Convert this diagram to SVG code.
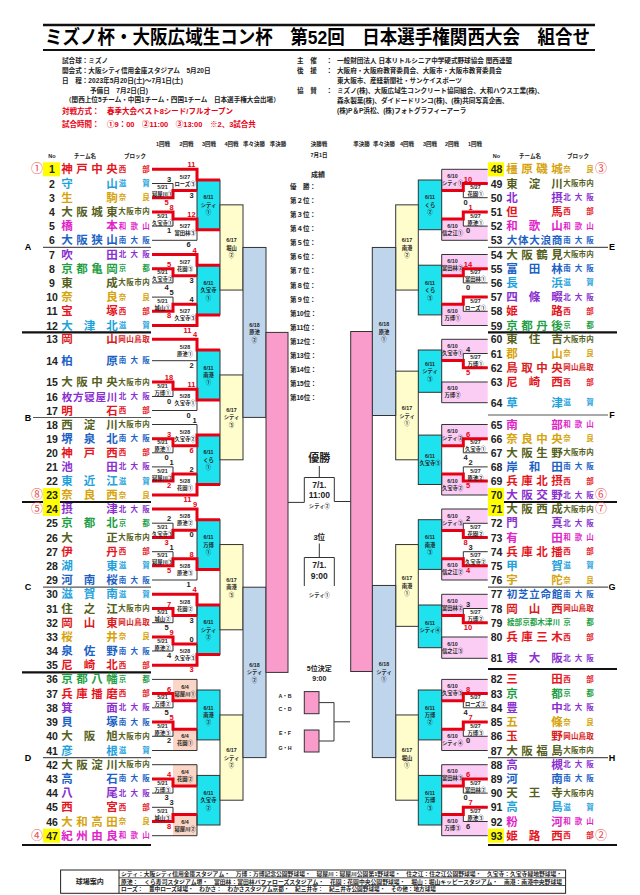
<svg xmlns="http://www.w3.org/2000/svg" width="640" height="895" viewBox="0 0 640 895">
<defs>
<style>
text{font-family:"Liberation Sans","Noto Sans CJK JP",sans-serif;font-weight:bold;dominant-baseline:central}
.t{font-size:11.5px;text-anchor:middle}
.t5{font-size:10.5px}
.no{font-size:10.5px;text-anchor:middle;fill:#222}
.bk{font-size:7.5px;text-anchor:middle}
.sd{font-size:12px;text-anchor:middle;fill:#e8504f;font-weight:normal}
.lb{font-size:5.3px;text-anchor:middle;fill:#222}
.sc{font-size:7.5px;text-anchor:middle;fill:#222}
.hd{font-size:5.5px;text-anchor:middle;fill:#222}
.inf{font-size:6.6px;fill:#222}
.rk{font-size:6.5px;fill:#222}
.red{fill:#e60012}
.ln{stroke:#333;stroke-width:1;fill:none}
.rl{stroke:#e60012;stroke-width:3;fill:none}
.sep{stroke:#555;stroke-width:1.2}
.sepk{stroke:#111;stroke-width:2.2}
.cy{fill:#1ee3ef;stroke:#333;stroke-width:1}
.ye{fill:#fffdcc;stroke:#333;stroke-width:1}
.bl{fill:#bfd5ec;stroke:#333;stroke-width:1}
.pk{fill:#f99bcb;stroke:#333;stroke-width:1}
.pl{fill:#fbcdf5}
.wh{fill:#fff}
.sa{fill:#fbd5c5}
.sb{fill:#ffff00}
.c1{fill:#e5161e}.c2{fill:#1ea2dc}.c3{fill:#d6a30c}.c4{fill:#556020}.c5{fill:#e024c8}.c6{fill:#1c62c4}.c7{fill:#8a30cf}.c8{fill:#1f9f45}.c9{fill:#d81e1e}
</style>
</defs>
<rect width="640" height="895" fill="#fff"/>

<g id="title">
<line x1="43" y1="25" x2="595" y2="25" stroke="#111" stroke-width="2.6"/>
<line x1="43" y1="50" x2="595" y2="50" stroke="#111" stroke-width="2.2"/>
<text x="45" y="37.5" font-size="19" textLength="545" lengthAdjust="spacingAndGlyphs">ミズノ杯・大阪広域生コン杯　第52回　日本選手権関西大会　組合せ</text>
</g>

<g id="info-left">
<text class="inf" x="62" y="60">試合球：ミズノ</text>
<text class="inf" x="62" y="70">開会式：大阪シティ信用金庫スタジアム　5月20日</text>
<text class="inf" x="62" y="80">日　程：2023年5月20日(土)～7月1日(土)</text>
<text class="inf" x="90" y="90">予備日　7月2日(日)</text>
<text class="inf" x="65" y="99.5" font-size="5.6">（関西上位5チーム・中国1チーム・四国1チーム　日本選手権大会出場）</text>
<text class="red" x="62" y="111" font-size="7.5">対戦方式：</text>
<text class="red" x="107" y="111" font-size="7.5">春季大会ベスト8シード/フルオープン</text>
<text class="red" x="62" y="124" font-size="7.5">試合時間：</text>
<text class="red" x="107" y="124" font-size="7.5">①9：00　②11:00　③13:00　※2、3試合共</text>
</g>

<g id="info-right">
<text class="inf" x="297" y="60">主　催</text><text class="inf" x="326" y="60">：</text>
<text class="inf" x="337" y="60">一般財団法人 日本リトルシニア中学硬式野球協会 関西連盟</text>
<text class="inf" x="297" y="70">後　援</text><text class="inf" x="326" y="70">：</text>
<text class="inf" x="337" y="70">大阪府・大阪府教育委員会、大阪市・大阪市教育委員会</text>
<text class="inf" x="337" y="80">東大阪市、産経新聞社・サンケイスポーツ</text>
<text class="inf" x="297" y="90">協　賛</text><text class="inf" x="326" y="90">：</text>
<text class="inf" x="337" y="90">ミズノ(株)、大阪広域生コンクリート協同組合、大和ハウス工業(株)、</text>
<text class="inf" x="337" y="100">森永製菓(株)、ダイドードリンコ(株)、(株)共同写真企画、</text>
<text class="inf" x="337" y="110">(株)P＆P浜松、(株)フォトグラフィーアーラ</text>
</g>

<g id="round-headers">
<text class="hd" x="163" y="144">1回戦</text><text class="hd" x="186.5" y="144">2回戦</text><text class="hd" x="209" y="144">3回戦</text><text class="hd" x="231.5" y="144">4回戦</text><text class="hd" x="254" y="144">準々決勝</text><text class="hd" x="278" y="144">準決勝</text>
<text class="hd" x="319" y="144">決勝戦</text><text class="hd" x="319" y="155" font-size="6.5">7月1日</text>
<text class="hd" x="361.5" y="144">準決勝</text><text class="hd" x="384" y="144">準々決勝</text><text class="hd" x="407" y="144">4回戦</text><text class="hd" x="430" y="144">3回戦</text><text class="hd" x="452" y="144">2回戦</text><text class="hd" x="475" y="144">1回戦</text>
<text class="hd" x="52" y="156" font-size="6">No</text><text class="hd" x="85" y="156" font-size="6">チーム名</text><text class="hd" x="135" y="156" font-size="6">ブロック</text>
<text class="hd" x="496.5" y="156" font-size="6">No</text><text class="hd" x="530" y="156" font-size="6">チーム名</text><text class="hd" x="578" y="156" font-size="6">ブロック</text>
</g>

<g id="separators">
<line class="sep" x1="43" y1="247.4" x2="151" y2="247.4"/><line class="sepk" x1="22" y1="332.4" x2="151" y2="332.4"/>
<line class="sep" x1="33" y1="417.5" x2="151" y2="417.5"/><line class="sepk" x1="22" y1="502" x2="151" y2="502"/>
<line class="sep" x1="43" y1="587.2" x2="151" y2="587.2"/><line class="sepk" x1="22" y1="672.3" x2="151" y2="672.3"/>
<line class="sep" x1="43" y1="757.6" x2="151" y2="757.6"/><line class="sepk" x1="22" y1="845" x2="151" y2="845"/>
<line class="sep" x1="488" y1="247.4" x2="608" y2="247.4"/><line class="sepk" x1="488" y1="332.4" x2="617" y2="332.4"/>
<line class="sep" x1="488" y1="415" x2="608" y2="415"/><line class="sepk" x1="488" y1="502" x2="617" y2="502"/>
<line class="sep" x1="488" y1="587.2" x2="608" y2="587.2"/><line class="sepk" x1="488" y1="669" x2="617" y2="669"/>
<line class="sep" x1="488" y1="757.6" x2="608" y2="757.6"/><line class="sepk" x1="488" y1="845" x2="617" y2="845"/>
<text x="28" y="247.4" font-size="9" text-anchor="middle">A</text><text x="28" y="417.5" font-size="9" text-anchor="middle">B</text>
<text x="28" y="587.2" font-size="9" text-anchor="middle">C</text><text x="28" y="757.6" font-size="9" text-anchor="middle">D</text>
<text x="612" y="247.4" font-size="9" text-anchor="middle">E</text><text x="612" y="415" font-size="9" text-anchor="middle">F</text>
<text x="612" y="587.2" font-size="9" text-anchor="middle">G</text><text x="612" y="757.6" font-size="9" text-anchor="middle">H</text>
</g>

<g id="teams-left">
<g id="team-1"><rect class="sb" x="43" y="162.3" width="17" height="14"/><text class="sd" x="37" y="169.3">①</text><text class="no" x="52" y="169.3">1</text><text class="t c1" x="67 82 97 112" y="169.3">神戸中央</text><text class="bk c1" x="122.5 146" y="169.3">西部</text></g>
<g id="team-2"><text class="no" x="52" y="183.5">2</text><text class="t c2" x="67 112" y="183.5">守山</text><text class="bk c2" x="122.5 146" y="183.5">滋賀</text></g>
<g id="team-3"><text class="no" x="52" y="197.7">3</text><text class="t c3" x="67 112" y="197.7">生駒</text><text class="bk c3" x="122.5 146" y="197.7">奈良</text></g>
<g id="team-4"><text class="no" x="52" y="211.9">4</text><text class="t c4" x="67 82 97 112" y="211.9">大阪城東</text><text class="bk c4" x="122 130 138 146" y="211.9">大阪市内</text></g>
<g id="team-5"><text class="no" x="52" y="226.1">5</text><text class="t c5" x="67 112" y="226.1">橋本</text><text class="bk c5" x="122.5 134.3 146" y="226.1">和歌山</text></g>
<g id="team-6"><text class="no" x="52" y="240.3">6</text><text class="t c6" x="67 82 97 112" y="240.3">大阪狭山</text><text class="bk c6" x="122.5 134.3 146" y="240.3">南大阪</text></g>
<g id="team-7"><text class="no" x="52" y="254.5">7</text><text class="t c7" x="67 112" y="254.5">吹田</text><text class="bk c7" x="122.5 134.3 146" y="254.5">北大阪</text></g>
<g id="team-8"><text class="no" x="52" y="268.7">8</text><text class="t c8" x="67 82 97 112" y="268.7">京都亀岡</text><text class="bk c8" x="122.5 146" y="268.7">京都</text></g>
<g id="team-9"><text class="no" x="52" y="282.9">9</text><text class="t c4" x="67 112" y="282.9">東成</text><text class="bk c4" x="122 130 138 146" y="282.9">大阪市内</text></g>
<g id="team-10"><text class="no" x="52" y="297.1">10</text><text class="t c3" x="67 112" y="297.1">奈良</text><text class="bk c3" x="122.5 146" y="297.1">奈良</text></g>
<g id="team-11"><text class="no" x="52" y="311.3">11</text><text class="t c1" x="67 112" y="311.3">宝塚</text><text class="bk c1" x="122.5 146" y="311.3">西部</text></g>
<g id="team-12"><text class="no" x="52" y="325.5">12</text><text class="t c2" x="67 89.5 112" y="325.5">大津北</text><text class="bk c2" x="122.5 146" y="325.5">滋賀</text></g>
<g id="team-13"><text class="no" x="52" y="339.3">13</text><text class="t c9" x="67 112" y="339.3">岡山</text><text class="bk c9" x="122 130 138 146" y="339.3">岡山鳥取</text></g>
<g id="team-14"><text class="no" x="52" y="360.7">14</text><text class="t c6" x="67 112" y="360.7">柏原</text><text class="bk c6" x="122.5 134.3 146" y="360.7">南大阪</text></g>
<g id="team-15"><text class="no" x="52" y="382">15</text><text class="t c4" x="67 82 97 112" y="382">大阪中央</text><text class="bk c4" x="122 130 138 146" y="382">大阪市内</text></g>
<g id="team-16"><text class="no" x="52" y="396.5">16</text><text class="t t5 c7" x="67 78.25 89.5 100.75 112" y="396.5">枚方寝屋川</text><text class="bk c7" x="122.5 134.3 146" y="396.5">北大阪</text></g>
<g id="team-17"><text class="no" x="52" y="410.5">17</text><text class="t c1" x="67 112" y="410.5">明石</text><text class="bk c1" x="122.5 146" y="410.5">西部</text></g>
<g id="team-18"><text class="no" x="52" y="424.5">18</text><text class="t c4" x="67 89.5 112" y="424.5">西淀川</text><text class="bk c4" x="122 130 138 146" y="424.5">大阪市内</text></g>
<g id="team-19"><text class="no" x="52" y="438.7">19</text><text class="t c6" x="67 89.5 112" y="438.7">堺泉北</text><text class="bk c6" x="122.5 134.3 146" y="438.7">南大阪</text></g>
<g id="team-20"><text class="no" x="52" y="452.8">20</text><text class="t c1" x="67 89.5 112" y="452.8">神戸西</text><text class="bk c1" x="122.5 146" y="452.8">西部</text></g>
<g id="team-21"><text class="no" x="52" y="466.9">21</text><text class="t c7" x="67 112" y="466.9">池田</text><text class="bk c7" x="122.5 134.3 146" y="466.9">北大阪</text></g>
<g id="team-22"><text class="no" x="52" y="481">22</text><text class="t c2" x="67 89.5 112" y="481">東近江</text><text class="bk c2" x="122.5 146" y="481">滋賀</text></g>
<g id="team-23"><rect class="sb" x="43" y="488" width="17" height="14"/><text class="sd" x="37" y="495">⑧</text><text class="no" x="52" y="495">23</text><text class="t c3" x="67 89.5 112" y="495">奈良西</text><text class="bk c3" x="122.5 146" y="495">奈良</text></g>
<g id="team-24"><rect class="sb" x="43" y="502" width="17" height="14"/><text class="sd" x="37" y="509">⑤</text><text class="no" x="52" y="509">24</text><text class="t c7" x="67 112" y="509">摂津</text><text class="bk c7" x="122.5 134.3 146" y="509">北大阪</text></g>
<g id="team-25"><text class="no" x="52" y="523.2">25</text><text class="t c8" x="67 89.5 112" y="523.2">京都北</text><text class="bk c8" x="122.5 146" y="523.2">京都</text></g>
<g id="team-26"><text class="no" x="52" y="537.5">26</text><text class="t c4" x="67 112" y="537.5">大正</text><text class="bk c4" x="122 130 138 146" y="537.5">大阪市内</text></g>
<g id="team-27"><text class="no" x="52" y="551.7">27</text><text class="t c1" x="67 112" y="551.7">伊丹</text><text class="bk c1" x="122.5 146" y="551.7">西部</text></g>
<g id="team-28"><text class="no" x="52" y="565.8">28</text><text class="t c2" x="67 112" y="565.8">湖東</text><text class="bk c2" x="122.5 146" y="565.8">滋賀</text></g>
<g id="team-29"><text class="no" x="52" y="580">29</text><text class="t c6" x="67 89.5 112" y="580">河南桜</text><text class="bk c6" x="122.5 134.3 146" y="580">南大阪</text></g>
<g id="team-30"><text class="no" x="52" y="594.3">30</text><text class="t c2" x="67 89.5 112" y="594.3">滋賀南</text><text class="bk c2" x="122.5 146" y="594.3">滋賀</text></g>
<g id="team-31"><text class="no" x="52" y="608.5">31</text><text class="t c4" x="67 89.5 112" y="608.5">住之江</text><text class="bk c4" x="122 130 138 146" y="608.5">大阪市内</text></g>
<g id="team-32"><text class="no" x="52" y="622.7">32</text><text class="t c9" x="67 89.5 112" y="622.7">岡山東</text><text class="bk c9" x="122 130 138 146" y="622.7">岡山鳥取</text></g>
<g id="team-33"><text class="no" x="52" y="636.9">33</text><text class="t c3" x="67 112" y="636.9">桜井</text><text class="bk c3" x="122.5 146" y="636.9">奈良</text></g>
<g id="team-34"><text class="no" x="52" y="651">34</text><text class="t c6" x="67 89.5 112" y="651">泉佐野</text><text class="bk c6" x="122.5 134.3 146" y="651">南大阪</text></g>
<g id="team-35"><text class="no" x="52" y="665.2">35</text><text class="t c1" x="67 89.5 112" y="665.2">尼崎北</text><text class="bk c1" x="122.5 146" y="665.2">西部</text></g>
<g id="team-36"><text class="no" x="52" y="679.4">36</text><text class="t c8" x="67 82 97 112" y="679.4">京都八幡</text><text class="bk c8" x="122.5 146" y="679.4">京都</text></g>
<g id="team-37"><text class="no" x="52" y="693.6">37</text><text class="t c1" x="67 82 97 112" y="693.6">兵庫播磨</text><text class="bk c1" x="122.5 146" y="693.6">西部</text></g>
<g id="team-38"><text class="no" x="52" y="707.8">38</text><text class="t c7" x="67 112" y="707.8">箕面</text><text class="bk c7" x="122.5 134.3 146" y="707.8">北大阪</text></g>
<g id="team-39"><text class="no" x="52" y="722">39</text><text class="t c6" x="67 112" y="722">貝塚</text><text class="bk c6" x="122.5 134.3 146" y="722">南大阪</text></g>
<g id="team-40"><text class="no" x="52" y="736.3">40</text><text class="t c4" x="67 89.5 112" y="736.3">大阪旭</text><text class="bk c4" x="122 130 138 146" y="736.3">大阪市内</text></g>
<g id="team-41"><text class="no" x="52" y="750.5">41</text><text class="t c2" x="67 112" y="750.5">彦根</text><text class="bk c2" x="122.5 146" y="750.5">滋賀</text></g>
<g id="team-42"><text class="no" x="52" y="764.7">42</text><text class="t c4" x="67 82 97 112" y="764.7">大阪淀川</text><text class="bk c4" x="122 130 138 146" y="764.7">大阪市内</text></g>
<g id="team-43"><text class="no" x="52" y="778.9">43</text><text class="t c6" x="67 112" y="778.9">高石</text><text class="bk c6" x="122.5 134.3 146" y="778.9">南大阪</text></g>
<g id="team-44"><text class="no" x="52" y="793.1">44</text><text class="t c7" x="67 112" y="793.1">八尾</text><text class="bk c7" x="122.5 134.3 146" y="793.1">北大阪</text></g>
<g id="team-45"><text class="no" x="52" y="807.3">45</text><text class="t c1" x="67 112" y="807.3">西宮</text><text class="bk c1" x="122.5 146" y="807.3">西部</text></g>
<g id="team-46"><text class="no" x="52" y="821.5">46</text><text class="t c3" x="67 82 97 112" y="821.5">大和高田</text><text class="bk c3" x="122.5 146" y="821.5">奈良</text></g>
<g id="team-47"><rect class="sb" x="43" y="828.7" width="17" height="14"/><text class="sd" x="37" y="835.7">④</text><text class="no" x="52" y="835.7">47</text><text class="t c5" x="67 82 97 112" y="835.7">紀州由良</text><text class="bk c5" x="122.5 134.3 146" y="835.7">和歌山</text></g>
</g>

<g id="teams-right">
<g id="team-48"><rect class="sb" x="488" y="162.3" width="16" height="14"/><text class="sd" x="601" y="169.3">③</text><text class="no" x="496.5" y="169.3">48</text><text class="t c3" x="512 527 542 557" y="169.3">橿原磯城</text><text class="bk c3" x="567 590" y="169.3">奈良</text></g>
<g id="team-49"><text class="no" x="496.5" y="183.5">49</text><text class="t c4" x="512 534.5 557" y="183.5">東淀川</text><text class="bk c4" x="567 574.7 582.3 590" y="183.5">大阪市内</text></g>
<g id="team-50"><text class="no" x="496.5" y="197.7">50</text><text class="t c7" x="512 557" y="197.7">北摂</text><text class="bk c7" x="567 578.5 590" y="197.7">北大阪</text></g>
<g id="team-51"><text class="no" x="496.5" y="211.9">51</text><text class="t c1" x="512 557" y="211.9">但馬</text><text class="bk c1" x="567 590" y="211.9">西部</text></g>
<g id="team-52"><text class="no" x="496.5" y="226.1">52</text><text class="t c5" x="512 534.5 557" y="226.1">和歌山</text><text class="bk c5" x="567 578.5 590" y="226.1">和歌山</text></g>
<g id="team-53"><text class="no" x="496.5" y="240.3">53</text><text class="t t5 c6" x="512 523.25 534.5 545.75 557" y="240.3">大体大浪商</text><text class="bk c6" x="567 578.5 590" y="240.3">南大阪</text></g>
<g id="team-54"><text class="no" x="496.5" y="254.5">54</text><text class="t c4" x="512 527 542 557" y="254.5">大阪鶴見</text><text class="bk c4" x="567 574.7 582.3 590" y="254.5">大阪市内</text></g>
<g id="team-55"><text class="no" x="496.5" y="268.7">55</text><text class="t c6" x="512 534.5 557" y="268.7">富田林</text><text class="bk c6" x="567 578.5 590" y="268.7">南大阪</text></g>
<g id="team-56"><text class="no" x="496.5" y="282.9">56</text><text class="t c2" x="512 557" y="282.9">長浜</text><text class="bk c2" x="567 590" y="282.9">滋賀</text></g>
<g id="team-57"><text class="no" x="496.5" y="297.1">57</text><text class="t c7" x="512 534.5 557" y="297.1">四條畷</text><text class="bk c7" x="567 578.5 590" y="297.1">北大阪</text></g>
<g id="team-58"><text class="no" x="496.5" y="311.3">58</text><text class="t c1" x="512 557" y="311.3">姫路</text><text class="bk c1" x="567 590" y="311.3">西部</text></g>
<g id="team-59"><text class="no" x="496.5" y="325.5">59</text><text class="t c8" x="512 527 542 557" y="325.5">京都丹後</text><text class="bk c8" x="567 590" y="325.5">京都</text></g>
<g id="team-60"><text class="no" x="496.5" y="339.3">60</text><text class="t c4" x="512 534.5 557" y="339.3">東住吉</text><text class="bk c4" x="567 574.7 582.3 590" y="339.3">大阪市内</text></g>
<g id="team-61"><text class="no" x="496.5" y="353.5">61</text><text class="t c3" x="512 557" y="353.5">郡山</text><text class="bk c3" x="567 590" y="353.5">奈良</text></g>
<g id="team-62"><text class="no" x="496.5" y="367.7">62</text><text class="t c9" x="512 527 542 557" y="367.7">鳥取中央</text><text class="bk c9" x="567 574.7 582.3 590" y="367.7">岡山鳥取</text></g>
<g id="team-63"><text class="no" x="496.5" y="382">63</text><text class="t c1" x="512 534.5 557" y="382">尼崎西</text><text class="bk c1" x="567 590" y="382">西部</text></g>
<g id="team-64"><text class="no" x="496.5" y="402.7">64</text><text class="t c2" x="512 557" y="402.7">草津</text><text class="bk c2" x="567 590" y="402.7">滋賀</text></g>
<g id="team-65"><text class="no" x="496.5" y="424.5">65</text><text class="t c5" x="512 557" y="424.5">南部</text><text class="bk c5" x="567 578.5 590" y="424.5">和歌山</text></g>
<g id="team-66"><text class="no" x="496.5" y="438.7">66</text><text class="t c3" x="512 527 542 557" y="438.7">奈良中央</text><text class="bk c3" x="567 590" y="438.7">奈良</text></g>
<g id="team-67"><text class="no" x="496.5" y="452.8">67</text><text class="t c4" x="512 527 542 557" y="452.8">大阪生野</text><text class="bk c4" x="567 574.7 582.3 590" y="452.8">大阪市内</text></g>
<g id="team-68"><text class="no" x="496.5" y="466.9">68</text><text class="t c6" x="512 534.5 557" y="466.9">岸和田</text><text class="bk c6" x="567 578.5 590" y="466.9">南大阪</text></g>
<g id="team-69"><text class="no" x="496.5" y="481">69</text><text class="t c1" x="512 527 542 557" y="481">兵庫北摂</text><text class="bk c1" x="567 590" y="481">西部</text></g>
<g id="team-70"><rect class="sb" x="488" y="488" width="16" height="14"/><text class="sd" x="601" y="495">⑥</text><text class="no" x="496.5" y="495">70</text><text class="t c7" x="512 527 542 557" y="495">大阪交野</text><text class="bk c7" x="567 578.5 590" y="495">北大阪</text></g>
<g id="team-71"><rect class="sb" x="488" y="502" width="16" height="14"/><text class="sd" x="601" y="509">⑦</text><text class="no" x="496.5" y="509">71</text><text class="t c4" x="512 527 542 557" y="509">大阪西成</text><text class="bk c4" x="567 574.7 582.3 590" y="509">大阪市内</text></g>
<g id="team-72"><text class="no" x="496.5" y="523.3">72</text><text class="t c7" x="512 557" y="523.3">門真</text><text class="bk c7" x="567 578.5 590" y="523.3">北大阪</text></g>
<g id="team-73"><text class="no" x="496.5" y="537.5">73</text><text class="t c5" x="512 557" y="537.5">有田</text><text class="bk c5" x="567 578.5 590" y="537.5">和歌山</text></g>
<g id="team-74"><text class="no" x="496.5" y="551.7">74</text><text class="t c1" x="512 527 542 557" y="551.7">兵庫北播</text><text class="bk c1" x="567 590" y="551.7">西部</text></g>
<g id="team-75"><text class="no" x="496.5" y="565.8">75</text><text class="t c2" x="512 557" y="565.8">甲賀</text><text class="bk c2" x="567 590" y="565.8">滋賀</text></g>
<g id="team-76"><text class="no" x="496.5" y="580">76</text><text class="t c3" x="512 557" y="580">宇陀</text><text class="bk c3" x="567 590" y="580">奈良</text></g>
<g id="team-77"><text class="no" x="496.5" y="594.3">77</text><text class="t t5 c6" x="512 523.25 534.5 545.75 557" y="594.3">初芝立命館</text><text class="bk c6" x="567 578.5 590" y="594.3">南大阪</text></g>
<g id="team-78"><text class="no" x="496.5" y="608.5">78</text><text class="t c9" x="512 534.5 557" y="608.5">岡山西</text><text class="bk c9" x="567 574.7 582.3 590" y="608.5">岡山鳥取</text></g>
<g id="team-79"><text class="no" x="496.5" y="622.7">79</text><text class="c8" x="507" y="622.7" font-size="7.5" textLength="53" lengthAdjust="spacingAndGlyphs">綾部京都木津川</text><text class="bk c8" x="567 590" y="622.7">京都</text></g>
<g id="team-80"><text class="no" x="496.5" y="637">80</text><text class="t c1" x="512 527 542 557" y="637">兵庫三木</text><text class="bk c1" x="567 590" y="637">西部</text></g>
<g id="team-81"><text class="no" x="496.5" y="658.3">81</text><text class="t c7" x="512 534.5 557" y="658.3">東大阪</text><text class="bk c7" x="567 578.5 590" y="658.3">北大阪</text></g>
<g id="team-82"><text class="no" x="496.5" y="679.4">82</text><text class="t c1" x="512 557" y="679.4">三田</text><text class="bk c1" x="567 590" y="679.4">西部</text></g>
<g id="team-83"><text class="no" x="496.5" y="693.6">83</text><text class="t c8" x="512 557" y="693.6">京都</text><text class="bk c8" x="567 590" y="693.6">京都</text></g>
<g id="team-84"><text class="no" x="496.5" y="707.8">84</text><text class="t c7" x="512 557" y="707.8">豊中</text><text class="bk c7" x="567 578.5 590" y="707.8">北大阪</text></g>
<g id="team-85"><text class="no" x="496.5" y="722">85</text><text class="t c3" x="512 557" y="722">五條</text><text class="bk c3" x="567 590" y="722">奈良</text></g>
<g id="team-86"><text class="no" x="496.5" y="736.3">86</text><text class="t c9" x="512 557" y="736.3">玉野</text><text class="bk c9" x="567 574.7 582.3 590" y="736.3">岡山鳥取</text></g>
<g id="team-87"><text class="no" x="496.5" y="750.5">87</text><text class="t c4" x="512 527 542 557" y="750.5">大阪福島</text><text class="bk c4" x="567 574.7 582.3 590" y="750.5">大阪市内</text></g>
<g id="team-88"><text class="no" x="496.5" y="764.7">88</text><text class="t c7" x="512 557" y="764.7">高槻</text><text class="bk c7" x="567 578.5 590" y="764.7">北大阪</text></g>
<g id="team-89"><text class="no" x="496.5" y="778.9">89</text><text class="t c6" x="512 557" y="778.9">河南</text><text class="bk c6" x="567 578.5 590" y="778.9">南大阪</text></g>
<g id="team-90"><text class="no" x="496.5" y="793.1">90</text><text class="t c4" x="512 534.5 557" y="793.1">天王寺</text><text class="bk c4" x="567 574.7 582.3 590" y="793.1">大阪市内</text></g>
<g id="team-91"><text class="no" x="496.5" y="807.3">91</text><text class="t c2" x="512 557" y="807.3">高島</text><text class="bk c2" x="567 590" y="807.3">滋賀</text></g>
<g id="team-92"><text class="no" x="496.5" y="821.5">92</text><text class="t c5" x="512 557" y="821.5">粉河</text><text class="bk c5" x="567 578.5 590" y="821.5">和歌山</text></g>
<g id="team-93"><rect class="sb" x="488" y="828.7" width="16" height="14"/><text class="sd" x="601" y="835.7">②</text><text class="no" x="496.5" y="835.7">93</text><text class="t c1" x="512 534.5 557" y="835.7">姫路西</text><text class="bk c1" x="567 590" y="835.7">西部</text></g>
</g>

<g id="match-fills">
<rect class="sa" x="173" y="679.4" width="24" height="21.3"/><rect class="sa" x="173" y="729.2" width="24" height="21.3"/>
<rect class="sa" x="173" y="764.7" width="24" height="21.3"/><rect class="sa" x="173" y="814.4" width="24" height="21.3"/>
<rect class="pl" x="441.7" y="169.3" width="46" height="21.3"/><rect class="pl" x="441.7" y="219" width="46" height="21.3"/>
<rect class="pl" x="441.7" y="254.5" width="46" height="21.3"/><rect class="pl" x="441.7" y="304.2" width="46" height="21.3"/>
<rect class="pl" x="441.7" y="339.3" width="46" height="21.3"/><rect class="pl" x="441.7" y="382" width="46" height="20.7"/>
<rect class="pl" x="441.7" y="424.5" width="46" height="21.3"/><rect class="pl" x="441.7" y="474" width="46" height="21"/>
<rect class="pl" x="441.7" y="509" width="46" height="21.4"/><rect class="pl" x="441.7" y="558.75" width="46" height="21.25"/>
<rect class="pl" x="441.7" y="594.3" width="46" height="21.3"/><rect class="pl" x="441.7" y="637" width="46" height="21.3"/>
<rect class="pl" x="441.7" y="679.4" width="46" height="21.3"/><rect class="pl" x="441.7" y="729.15" width="46" height="21.35"/>
<rect class="pl" x="441.7" y="764.7" width="46" height="21.3"/><rect class="pl" x="441.7" y="814.4" width="46" height="21.3"/>
<rect class="wh" x="463.3" y="183.5" width="24.4" height="14.2"/><rect class="wh" x="463.3" y="211.9" width="24.4" height="14.2"/>
<rect class="wh" x="463.3" y="268.7" width="24.4" height="14.2"/><rect class="wh" x="463.3" y="297.1" width="24.4" height="14.2"/>
<rect class="wh" x="463.3" y="353.5" width="24.4" height="14.2"/><rect class="wh" x="463.3" y="438.7" width="24.4" height="14.1"/>
<rect class="wh" x="463.3" y="466.9" width="24.4" height="14.1"/><rect class="wh" x="463.3" y="523.3" width="24.4" height="14.2"/>
<rect class="wh" x="463.3" y="551.7" width="24.4" height="14.1"/><rect class="wh" x="463.3" y="608.5" width="24.4" height="14.2"/>
<rect class="wh" x="463.3" y="693.6" width="24.4" height="14.2"/><rect class="wh" x="463.3" y="722" width="24.4" height="14.3"/>
<rect class="wh" x="463.3" y="778.9" width="24.4" height="14.2"/><rect class="wh" x="463.3" y="807.3" width="24.4" height="14.2"/>
</g>

<g id="r3-left">
<g id="m-A1"><rect class="cy" x="197" y="180" width="23" height="49.7"/><text class="lb" x="208.5" y="197.4">6/11</text><text class="lb" x="208.5" y="204.9">シティ</text><text class="lb" x="208.5" y="212.3">①</text></g>
<g id="m-A2"><rect class="cy" x="197" y="265.2" width="23" height="49.7"/><text class="lb" x="208.5" y="282.6">6/11</text><text class="lb" x="208.5" y="290">久宝寺</text><text class="lb" x="208.5" y="297.5">①</text></g>
<g id="m-B1"><rect class="cy" x="197" y="350" width="23" height="49.9"/><text class="lb" x="208.5" y="367.5">6/11</text><text class="lb" x="208.5" y="375">南港</text><text class="lb" x="208.5" y="382.4">①</text></g>
<g id="m-B2"><rect class="cy" x="197" y="435.1" width="23" height="49.4"/><text class="lb" x="208.5" y="452.3">6/11</text><text class="lb" x="208.5" y="459.8">くら</text><text class="lb" x="208.5" y="467.3">①</text></g>
<g id="m-C1"><rect class="cy" x="197" y="519.7" width="23" height="49.7"/><text class="lb" x="208.5" y="537">6/11</text><text class="lb" x="208.5" y="544.5">万博</text><text class="lb" x="208.5" y="552">①</text></g>
<g id="m-C2"><rect class="cy" x="197" y="605" width="23" height="49.6"/><text class="lb" x="208.5" y="622.3">6/11</text><text class="lb" x="208.5" y="629.8">シティ</text><text class="lb" x="208.5" y="637.3">②</text></g>
<g id="m-D1"><rect class="cy" x="197" y="690" width="23" height="49.9"/><text class="lb" x="208.5" y="707.5">6/11</text><text class="lb" x="208.5" y="715">南港</text><text class="lb" x="208.5" y="722.4">②</text></g>
<g id="m-D2"><rect class="cy" x="197" y="775.4" width="23" height="49.6"/><text class="lb" x="208.5" y="792.7">6/11</text><text class="lb" x="208.5" y="800.2">久宝寺</text><text class="lb" x="208.5" y="807.7">②</text></g>
</g>
<g id="r4-left">
<g id="m-A"><rect class="ye" x="220" y="204.85" width="23" height="85.2"/><text class="lb" x="231.5" y="240">6/17</text><text class="lb" x="231.5" y="247.5">堀山</text><text class="lb" x="231.5" y="255">②</text></g>
<g id="m-B"><rect class="ye" x="220" y="374.95" width="23" height="84.85"/><text class="lb" x="231.5" y="409.9">6/17</text><text class="lb" x="231.5" y="417.4">シティ</text><text class="lb" x="231.5" y="424.9">③</text></g>
<g id="m-C"><rect class="ye" x="220" y="544.55" width="23" height="85.25"/><text class="lb" x="231.5" y="579.7">6/17</text><text class="lb" x="231.5" y="587.2">南港</text><text class="lb" x="231.5" y="594.7">③</text></g>
<g id="m-D"><rect class="ye" x="220" y="714.95" width="23" height="85.25"/><text class="lb" x="231.5" y="750.1">6/17</text><text class="lb" x="231.5" y="757.6">シティ</text><text class="lb" x="231.5" y="765.1">②</text></g>
</g>
<g id="qf-left">
<g id="m-AB"><rect class="bl" x="243" y="247.45" width="23" height="169.95"/><text class="lb" x="254.5" y="324.9">6/18</text><text class="lb" x="254.5" y="332.4">原池</text><text class="lb" x="254.5" y="339.9">②</text></g>
<g id="m-CD"><rect class="bl" x="243" y="587.2" width="23" height="170.4"/><text class="lb" x="254.5" y="664.9">6/18</text><text class="lb" x="254.5" y="672.4">シティ</text><text class="lb" x="254.5" y="679.9">②</text></g>
</g>
<g id="sf-left"><rect class="pk" x="266" y="332.4" width="22" height="340"/></g>

<g id="r3-right">
<g id="m-E1"><rect class="cy" x="418.3" y="180" width="23.4" height="49.7"/><text class="lb" x="430" y="197.4">6/11</text><text class="lb" x="430" y="204.9">くら</text><text class="lb" x="430" y="212.3">②</text></g>
<g id="m-E2"><rect class="cy" x="418.3" y="265.2" width="23.4" height="49.7"/><text class="lb" x="430" y="282.6">6/11</text><text class="lb" x="430" y="290">くら</text><text class="lb" x="430" y="297.5">③</text></g>
<g id="m-F1"><rect class="cy" x="418.3" y="350" width="23.4" height="42.3"/><text class="lb" x="430" y="363.7">6/11</text><text class="lb" x="430" y="371.2">シティ</text><text class="lb" x="430" y="378.7">③</text></g>
<g id="m-F2"><rect class="cy" x="418.3" y="435.1" width="23.4" height="49.4"/><text class="lb" x="430" y="456.3">6/11</text><text class="lb" x="430" y="463.3">久宝寺③</text></g>
<g id="m-G1"><rect class="cy" x="418.3" y="519.7" width="23.4" height="49.7"/><text class="lb" x="430" y="537">6/11</text><text class="lb" x="430" y="544.5">南港</text><text class="lb" x="430" y="552">③</text></g>
<g id="m-G2"><rect class="cy" x="418.3" y="605" width="23.4" height="42.7"/><text class="lb" x="430" y="622.8">6/11</text><text class="lb" x="430" y="629.9">シティ④</text></g>
<g id="m-H1"><rect class="cy" x="418.3" y="690" width="23.4" height="49.9"/><text class="lb" x="430" y="707.5">6/11</text><text class="lb" x="430" y="715">万博</text><text class="lb" x="430" y="722.4">②</text></g>
<g id="m-H2"><rect class="cy" x="418.3" y="775.4" width="23.4" height="49.6"/><text class="lb" x="430" y="792.7">6/11</text><text class="lb" x="430" y="800.2">万博</text><text class="lb" x="430" y="807.7">③</text></g>
</g>
<g id="r4-right">
<g id="m-E"><rect class="ye" x="395.7" y="204.85" width="22.6" height="85.2"/><text class="lb" x="407" y="240">6/17</text><text class="lb" x="407" y="247.5">南港</text><text class="lb" x="407" y="255">②</text></g>
<g id="m-F"><rect class="ye" x="395.7" y="371.15" width="22.6" height="88.65"/><text class="lb" x="407" y="408">6/17</text><text class="lb" x="407" y="415.5">シティ</text><text class="lb" x="407" y="423">①</text></g>
<g id="m-G"><rect class="ye" x="395.7" y="544.55" width="22.6" height="81.8"/><text class="lb" x="407" y="578">6/17</text><text class="lb" x="407" y="585.5">南港</text><text class="lb" x="407" y="593">①</text></g>
<g id="m-H"><rect class="ye" x="395.7" y="714.95" width="22.6" height="85.25"/><text class="lb" x="407" y="750.1">6/17</text><text class="lb" x="407" y="757.6">堀山</text><text class="lb" x="407" y="765.1">①</text></g>
</g>
<g id="qf-right">
<g id="m-EF"><rect class="bl" x="372.3" y="247.45" width="23.4" height="168.05"/><text class="lb" x="384" y="324">6/18</text><text class="lb" x="384" y="331.5">原池</text><text class="lb" x="384" y="339">①</text></g>
<g id="m-GH"><rect class="bl" x="372.3" y="585.45" width="23.4" height="172.15"/><text class="lb" x="384" y="664">6/18</text><text class="lb" x="384" y="671.5">シティ</text><text class="lb" x="384" y="679">①</text></g>
</g>
<g id="sf-right"><rect class="pk" x="350.7" y="331.5" width="21.6" height="340"/></g>

<g id="center">
<text x="318" y="174.6" font-size="7" text-anchor="middle" fill="#222">成績</text>
<text class="rk" x="290" y="186.5">優　勝：</text><text class="rk" x="290" y="200.6">第２位：</text><text class="rk" x="290" y="214.6">第３位：</text>
<text class="rk" x="290" y="228.6">第４位：</text><text class="rk" x="290" y="242.7">第５位：</text><text class="rk" x="290" y="256.8">第６位：</text>
<text class="rk" x="290" y="270.9">第７位：</text><text class="rk" x="290" y="285">第８位：</text><text class="rk" x="290" y="299">第９位：</text>
<text class="rk" x="290" y="313">第10位：</text><text class="rk" x="290" y="327">第11位：</text><text class="rk" x="290" y="341.2">第12位：</text>
<text class="rk" x="290" y="355.3">第13位：</text><text class="rk" x="290" y="369.4">第14位：</text><text class="rk" x="290" y="383.6">第15位：</text>
<text class="rk" x="290" y="397.7">第16位：</text>
<g id="final"><text x="319.3" y="458.4" font-size="11" text-anchor="middle" fill="#222">優勝</text>
<text x="319.3" y="485" font-size="8.5" text-anchor="middle" fill="#222">7/1.</text><text x="319.3" y="494.8" font-size="8.5" text-anchor="middle" fill="#222">11:00</text>
<text class="lb" x="319.3" y="505.5">シティ②</text></g>
<g id="third"><text x="319.3" y="537" font-size="7.5" text-anchor="middle" fill="#222">3位</text>
<text x="319.3" y="565" font-size="8.5" text-anchor="middle" fill="#222">7/1.</text><text x="319.3" y="576" font-size="8.5" text-anchor="middle" fill="#222">9:00</text>
<text class="lb" x="319.3" y="594.6">シティ①</text></g>
<g id="fifth"><text x="319.3" y="668" font-size="7" text-anchor="middle" fill="#222">5位決定</text><text x="319.3" y="678.3" font-size="7" text-anchor="middle" fill="#222">9:00</text>
<rect class="pk" x="304.3" y="691.6" width="14.7" height="22.1"/><rect class="pk" x="304.3" y="730" width="14.7" height="22"/>
<text class="lb" x="285" y="696" font-size="5.5">A・B</text><text class="lb" x="285" y="708.6" font-size="5.5">C・D</text>
<text class="lb" x="285" y="733" font-size="5.5">E・F</text><text class="lb" x="285" y="748" font-size="5.5">G・H</text></g>
</g>

<g id="connectors">
<path class="ln" d="M152 169.3H197M152 183.5H173M152 197.7H173M152 211.9H173M152 226.1H173M152 240.3H197M152 254.5H197M152 268.7H173M152 282.9H173M152 297.1H173M152 311.3H173M152 325.5H197M173 183.5V197.7M173 190.6H197M173 211.9V226.1M173 219H197M173 268.7V282.9M173 275.8H197M173 297.1V311.3M173 304.2H197M197 169.3V190.6M197 219V240.3M197 254.5V275.8M197 304.2V325.5"/>
<path class="ln" d="M152 339.3H197M152 360.7H197M152 382H173M152 396.5H173M152 410.5H197M152 424.5H197M152 438.7H173M152 452.8H173M152 466.9H173M152 481H173M152 495H197M173 382V396.5M173 389.3H197M173 438.7V452.8M173 445.8H197M173 466.9V481M173 474H197M197 339.3V360.7M197 389.3V410.5M197 424.5V445.8M197 474V495"/>
<path class="ln" d="M152 509H197M152 523.2H173M152 537.5H173M152 551.7H173M152 565.8H173M152 580H197M152 594.3H197M152 608.5H173M152 622.7H173M152 636.9H173M152 651H173M152 665.2H197M173 523.2V537.5M173 530.3H197M173 551.7V565.8M173 558.7H197M173 608.5V622.7M173 615.6H197M173 636.9V651M173 644H197M197 509V530.3M197 558.7V580M197 594.3V615.6M197 644V665.2"/>
<path class="ln" d="M152 679.4H197M152 693.6H173M152 707.8H173M152 722H173M152 736.3H173M152 750.5H197M152 764.7H197M152 778.9H173M152 793.1H173M152 807.3H173M152 821.5H173M152 835.7H197M173 693.6V707.8M173 700.7H197M173 722V736.3M173 729.2H197M173 778.9V793.1M173 786H197M173 807.3V821.5M173 814.4H197M197 679.4V700.7M197 729.2V750.5M197 764.7V786M197 814.4V835.7"/>
<path class="ln" d="M487.7 169.3H441.7M487.7 183.5H463.3M487.7 197.7H463.3M487.7 211.9H463.3M487.7 226.1H463.3M487.7 240.3H441.7M487.7 254.5H441.7M487.7 268.7H463.3M487.7 282.9H463.3M487.7 297.1H463.3M487.7 311.3H463.3M487.7 325.5H441.7M463.3 183.5V197.7M463.3 190.6H441.7M463.3 211.9V226.1M463.3 219H441.7M463.3 268.7V282.9M463.3 275.8H441.7M463.3 297.1V311.3M463.3 304.2H441.7M441.7 169.3V190.6M441.7 219V240.3M441.7 254.5V275.8M441.7 304.2V325.5"/>
<path class="ln" d="M487.7 339.3H441.7M487.7 353.5H463.3M487.7 367.7H463.3M487.7 382H441.7M487.7 402.7H441.7M487.7 424.5H441.7M487.7 438.7H463.3M487.7 452.8H463.3M487.7 466.9H463.3M487.7 481H463.3M487.7 495H441.7M463.3 353.5V367.7M463.3 360.6H441.7M463.3 438.7V452.8M463.3 445.8H441.7M463.3 466.9V481M463.3 474H441.7M441.7 339.3V360.6M441.7 382V402.7M441.7 424.5V445.8M441.7 474V495"/>
<path class="ln" d="M487.7 509H441.7M487.7 523.3H463.3M487.7 537.5H463.3M487.7 551.7H463.3M487.7 565.8H463.3M487.7 580H441.7M487.7 594.3H441.7M487.7 608.5H463.3M487.7 622.7H463.3M487.7 637H441.7M487.7 658.3H441.7M463.3 523.3V537.5M463.3 530.4H441.7M463.3 551.7V565.8M463.3 558.75H441.7M463.3 608.5V622.7M463.3 615.6H441.7M441.7 509V530.4M441.7 558.75V580M441.7 594.3V615.6M441.7 637V658.3"/>
<path class="ln" d="M487.7 679.4H441.7M487.7 693.6H463.3M487.7 707.8H463.3M487.7 722H463.3M487.7 736.3H463.3M487.7 750.5H441.7M487.7 764.7H441.7M487.7 778.9H463.3M487.7 793.1H463.3M487.7 807.3H463.3M487.7 821.5H463.3M487.7 835.7H441.7M463.3 693.6V707.8M463.3 700.7H441.7M463.3 722V736.3M463.3 729.15H441.7M463.3 778.9V793.1M463.3 786H441.7M463.3 807.3V821.5M463.3 814.4H441.7M441.7 679.4V700.7M441.7 729.15V750.5M441.7 764.7V786M441.7 814.4V835.7"/>
<path class="ln" d="M288 502.4H304.3V477.5H334.3V501.5H350.7M319.3 466V477.5M304.3 586V557.5H334.3V586M319.3 543.5V557.5M319 702.6H334V741H319M334 721.8H350"/>
<path class="rl" d="M152 197.7H173V190.6H197M152 169.3H197V180H220M152 211.9H173V219H197V229.7H220M152 268.7H173V275.8H197M152 254.5H197V265.2H220M152 311.3H173V304.2H197M152 325.5H197V314.9H220"/>
<path class="rl" d="M152 339.3H197V350H220M152 382H173V389.3H197V399.9H220M152 438.7H173V445.8H197V435.1H220M152 481H173V474H197M152 495H197V484.5H220"/>
<path class="rl" d="M152 509H197V519.7H220M152 537.5H173V530.3H197M152 565.8H173V558.7H197V569.4H220M152 594.3H197V605H220M152 608.5H173V615.6H197M152 636.9H173V644H197M152 665.2H197V654.6H220"/>
<path class="rl" d="M152 693.6H173V700.7H197M152 722H173V729.2H197M152 778.9H173V786H197M152 821.5H173V814.4H197"/>
<path class="rl" d="M487.7 183.5H463.3V190.6H441.7M487.7 211.9H463.3V219H441.7M487.7 268.7H463.3V275.8H441.7M487.7 297.1H463.3V304.2H441.7M487.7 367.7H463.3V360.6H441.7M487.7 438.7H463.3V445.8H441.7M487.7 481H463.3V474H441.7"/>
<path class="rl" d="M487.7 537.5H463.3V530.4H441.7M487.7 565.8H463.3V558.75H441.7M487.7 622.7H463.3V615.6H441.7M487.7 693.6H463.3V700.7H441.7M487.7 722H463.3V729.15H441.7M487.7 778.9H463.3V786H441.7M487.7 807.3H463.3V814.4H441.7"/>
</g>

<g id="match-labels">
<text class="lb" x="162.5" y="187.1">5/21</text><text class="lb" x="162.5" y="194.1">寝屋川①</text>
<text class="lb" x="162.5" y="215.5">5/21</text><text class="lb" x="162.5" y="222.5">久宝寺①</text>
<text class="lb" x="162.5" y="272.3">5/21</text><text class="lb" x="162.5" y="279.3">久宝寺②</text>
<text class="lb" x="162.5" y="300.7">5/21</text><text class="lb" x="162.5" y="307.7">城山①</text>
<text class="lb" x="162.5" y="385.8">5/21</text><text class="lb" x="162.5" y="392.8">万博①</text>
<text class="lb" x="162.5" y="442.3">5/21</text><text class="lb" x="162.5" y="449.3">原池①</text>
<text class="lb" x="162.5" y="470.5">5/21</text><text class="lb" x="162.5" y="477.5">寝屋川②</text>
<text class="lb" x="162.5" y="526.8">5/21</text><text class="lb" x="162.5" y="533.8">久宝寺③</text>
<text class="lb" x="162.5" y="555.2">5/21</text><text class="lb" x="162.5" y="562.2">寝屋川③</text>
<text class="lb" x="162.5" y="612.1">5/21</text><text class="lb" x="162.5" y="619.1">城山②</text>
<text class="lb" x="162.5" y="640.5">5/21</text><text class="lb" x="162.5" y="647.5">原池②</text>
<text class="lb" x="162.5" y="697.2">5/21</text><text class="lb" x="162.5" y="704.2">万博②</text>
<text class="lb" x="162.5" y="725.7">5/21</text><text class="lb" x="162.5" y="732.7">原池③</text>
<text class="lb" x="162.5" y="782.5">5/21</text><text class="lb" x="162.5" y="789.5">万博③</text>
<text class="lb" x="162.5" y="810.9">5/21</text><text class="lb" x="162.5" y="817.9">城山③</text>
<text class="lb" x="185" y="176.5">5/27</text><text class="lb" x="185" y="183.5">ローズ③</text>
<text class="lb" x="185" y="226.2">5/27</text><text class="lb" x="185" y="233.2">富田林③</text>
<text class="lb" x="185" y="261.7">5/27</text><text class="lb" x="185" y="268.7">花園③</text>
<text class="lb" x="185" y="311.4">5/27</text><text class="lb" x="185" y="318.4">久宝寺③</text>
<text class="lb" x="185" y="346.5">5/28</text><text class="lb" x="185" y="353.5">原池①</text>
<text class="lb" x="185" y="396.4">5/28</text><text class="lb" x="185" y="403.4">久宝寺①</text>
<text class="lb" x="185" y="431.6">5/28</text><text class="lb" x="185" y="438.6">久宝寺②</text>
<text class="lb" x="185" y="481">5/28</text><text class="lb" x="185" y="488">花園①</text>
<text class="lb" x="185" y="516.2">5/28</text><text class="lb" x="185" y="523.2">原池②</text>
<text class="lb" x="185" y="565.9">5/28</text><text class="lb" x="185" y="572.9">原池③</text>
<text class="lb" x="185" y="601.5">5/28</text><text class="lb" x="185" y="608.5">花園②</text>
<text class="lb" x="185" y="651.1">5/28</text><text class="lb" x="185" y="658.1">久宝寺③</text>
<text class="lb" x="185" y="686.5">6/4</text><text class="lb" x="185" y="693.5">寝屋川①</text>
<text class="lb" x="185" y="736.4">6/4</text><text class="lb" x="185" y="743.4">花園①</text>
<text class="lb" x="185" y="771.9">6/4</text><text class="lb" x="185" y="778.9">花園②</text>
<text class="lb" x="185" y="821.5">6/4</text><text class="lb" x="185" y="828.5">寝屋川②</text>
<text class="lb" x="475.5" y="187.1">5/27</text><text class="lb" x="475.5" y="194.1">花園①</text>
<text class="lb" x="475.5" y="215.5">5/27</text><text class="lb" x="475.5" y="222.5">原池①</text>
<text class="lb" x="475.5" y="272.3">5/27</text><text class="lb" x="475.5" y="279.3">富田林①</text>
<text class="lb" x="475.5" y="300.7">5/27</text><text class="lb" x="475.5" y="307.7">ローズ①</text>
<text class="lb" x="475.5" y="357.1">5/27</text><text class="lb" x="475.5" y="364.1">万博①</text>
<text class="lb" x="475.5" y="442.3">5/27</text><text class="lb" x="475.5" y="449.3">久宝寺①</text>
<text class="lb" x="475.5" y="470.5">5/27</text><text class="lb" x="475.5" y="477.5">原池②</text>
<text class="lb" x="475.5" y="526.9">5/27</text><text class="lb" x="475.5" y="533.9">花園②</text>
<text class="lb" x="475.5" y="555.3">5/27</text><text class="lb" x="475.5" y="562.3">久宝寺②</text>
<text class="lb" x="475.5" y="612.1">5/27</text><text class="lb" x="475.5" y="619.1">万博②</text>
<text class="lb" x="475.5" y="697.2">5/27</text><text class="lb" x="475.5" y="704.2">ローズ②</text>
<text class="lb" x="475.5" y="725.7">5/27</text><text class="lb" x="475.5" y="732.7">万博③</text>
<text class="lb" x="475.5" y="782.5">5/27</text><text class="lb" x="475.5" y="789.5">富田林②</text>
<text class="lb" x="475.5" y="810.9">5/27</text><text class="lb" x="475.5" y="817.9">原池③</text>
<text class="lb" x="452.5" y="176">6/10</text><text class="lb" x="452.5" y="183">シティ①</text>
<text class="lb" x="452.5" y="225.7">6/10</text><text class="lb" x="452.5" y="232.7">信之江①</text>
<text class="lb" x="452.5" y="261.2">6/10</text><text class="lb" x="452.5" y="268.2">富田林②</text>
<text class="lb" x="452.5" y="310.9">6/10</text><text class="lb" x="452.5" y="317.9">万博①</text>
<text class="lb" x="452.5" y="346">6/10</text><text class="lb" x="452.5" y="353">久宝寺①</text>
<text class="lb" x="452.5" y="388.3">6/10</text><text class="lb" x="452.5" y="395.3">万博②</text>
<text class="lb" x="452.5" y="431.1">6/10</text><text class="lb" x="452.5" y="438.1">シティ②</text>
<text class="lb" x="452.5" y="480.5">6/10</text><text class="lb" x="452.5" y="487.5">久宝寺②</text>
<text class="lb" x="452.5" y="515.7">6/10</text><text class="lb" x="452.5" y="522.7">シティ③</text>
<text class="lb" x="452.5" y="565.4">6/10</text><text class="lb" x="452.5" y="572.4">信之江②</text>
<text class="lb" x="452.5" y="601">6/10</text><text class="lb" x="452.5" y="608">富田林②</text>
<text class="lb" x="452.5" y="643.7">6/10</text><text class="lb" x="452.5" y="650.7">信之江③</text>
<text class="lb" x="452.5" y="686">6/10</text><text class="lb" x="452.5" y="693">久宝寺③</text>
<text class="lb" x="452.5" y="735.9">6/10</text><text class="lb" x="452.5" y="742.9">シティ④</text>
<text class="lb" x="452.5" y="771.4">6/10</text><text class="lb" x="452.5" y="778.4">富田林③</text>
<text class="lb" x="452.5" y="821">6/10</text><text class="lb" x="452.5" y="828">万博③</text>
</g>

<g id="scores">
<text class="sc" x="169" y="179">3</text><text class="sc red" x="166.5" y="202.2">5</text>
<text class="sc red" x="191.5" y="164.8">11</text><text class="sc" x="191.5" y="195.1">3</text>
<text class="sc red" x="171.5" y="207.4">8</text><text class="sc" x="169" y="230.6">1</text>
<text class="sc red" x="191.5" y="214.5">12</text><text class="sc" x="188.5" y="244.8">6</text>
<text class="sc red" x="169" y="264.2">5</text><text class="sc" x="166.5" y="287.4">4</text>
<text class="sc red" x="194.5" y="250">4</text><text class="sc" x="191.5" y="280.3">3</text>
<text class="sc" x="171.5" y="292.6">5</text><text class="sc red" x="169" y="315.8">8</text>
<text class="sc" x="191.5" y="299.7">4</text><text class="sc red" x="187.5" y="330">11</text>
<text class="sc red" x="195" y="334.8">4</text><text class="sc" x="191.5" y="365.2">2</text>
<text class="sc red" x="169" y="377.5">18</text><text class="sc" x="169" y="401">0</text>
<text class="sc red" x="191.5" y="384.8">11</text><text class="sc" x="188.5" y="415">0</text>
<text class="sc" x="194.5" y="420">1</text><text class="sc red" x="191.5" y="450.3">6</text>
<text class="sc red" x="169" y="434.2">3</text><text class="sc" x="166.5" y="457.3">0</text>
<text class="sc" x="171.5" y="462.4">1</text><text class="sc red" x="169" y="485.5">2</text>
<text class="sc" x="191.5" y="469.5">2</text><text class="sc red" x="187.5" y="499.5">11</text>
<text class="sc red" x="195" y="504.5">9</text><text class="sc" x="191.5" y="534.8">0</text>
<text class="sc" x="169" y="518.7">2</text><text class="sc red" x="166.5" y="542">3</text>
<text class="sc" x="171.5" y="547.2">1</text><text class="sc red" x="169" y="570.3">5</text>
<text class="sc red" x="191.5" y="554.2">8</text><text class="sc" x="188.5" y="584.5">1</text>
<text class="sc red" x="194.5" y="589.8">4</text><text class="sc" x="191.5" y="620.1">3</text>
<text class="sc red" x="169" y="604">7</text><text class="sc" x="166.5" y="627.2">5</text>
<text class="sc red" x="171.5" y="632.4">9</text><text class="sc" x="169" y="655.5">4</text>
<text class="sc" x="191.5" y="639.5">0</text><text class="sc red" x="191.5" y="669.7">3</text>
<text class="sc red" x="169" y="689.1">6</text><text class="sc" x="166.5" y="712.3">5</text>
<text class="sc red" x="171.5" y="717.5">5</text><text class="sc" x="169" y="740.8">2</text>
<text class="sc red" x="169" y="774.4">4</text><text class="sc" x="166.5" y="797.6">3</text>
<text class="sc" x="171.5" y="802.8">3</text><text class="sc red" x="169" y="826">8</text>
<text class="sc red" x="468" y="179">10</text><text class="sc" x="465.5" y="202.2">0</text>
<text class="sc red" x="470.5" y="207.4">1</text><text class="sc" x="468" y="230.6">0</text>
<text class="sc red" x="468" y="264.2">14</text><text class="sc" x="468" y="287.4">0</text>
<text class="sc" x="468" y="349">4</text><text class="sc red" x="468" y="372.2">5</text>
<text class="sc red" x="468" y="434.2">6</text><text class="sc" x="465.5" y="457.3">4</text>
<text class="sc" x="470.5" y="462.4">2</text><text class="sc red" x="468" y="485.5">5</text>
<text class="sc" x="468" y="518.8">2</text><text class="sc red" x="465.5" y="542">8</text>
<text class="sc" x="470.5" y="547.2">3</text><text class="sc red" x="468" y="570.3">4</text>
<text class="sc" x="468" y="604">3</text><text class="sc red" x="468" y="627.2">10</text>
<text class="sc red" x="468" y="689.1">8</text><text class="sc" x="465.5" y="712.3">4</text>
<text class="sc red" x="470.5" y="717.5">7</text><text class="sc" x="468" y="740.8">0</text>
<text class="sc red" x="468" y="774.4">6</text><text class="sc" x="465.5" y="797.6">0</text>
<text class="sc red" x="470.5" y="802.8">7</text><text class="sc" x="468" y="826">6</text>
</g>

<g id="footer">
<rect x="60.6" y="870" width="505" height="23.3" fill="none" stroke="#222" stroke-width="1"/>
<line x1="119" y1="870" x2="119" y2="893.3" stroke="#222" stroke-width="1"/>
<line x1="119" y1="877.8" x2="565.6" y2="877.8" stroke="#222" stroke-width="0.8"/>
<line x1="119" y1="885.5" x2="565.6" y2="885.5" stroke="#222" stroke-width="0.8"/>
<text x="89.8" y="881.7" font-size="7" text-anchor="middle" fill="#222">球場案内</text>
<text x="121" y="874" font-size="5.2" fill="#222" textLength="441" lengthAdjust="spacingAndGlyphs">シティ：大阪シティ信用金庫スタジアム・　万博：万博記念公園野球場・　寝屋川：寝屋川公園第1野球場・　住之江：住之江公園野球場・　久宝寺：久宝寺緑地野球場・</text>
<text x="121" y="881.7" font-size="5.2" fill="#222" textLength="441" lengthAdjust="spacingAndGlyphs">原池：　くら寿司スタジアム堺・　富田林：富田林バファローズスタジアム・　花園：花園中央公園野球場・　堀山：堀山キッピースタジアム・　南港：南港中央野球場</text>
<text x="121" y="889.4" font-size="5.2" fill="#222" textLength="315" lengthAdjust="spacingAndGlyphs">ローズ：　豊中ローズ球場・　わかさ：　わかさスタジアム京都・　紀三井寺：　紀三井寺公園野球場・　その他：地方球場</text>
</g>
</svg>
